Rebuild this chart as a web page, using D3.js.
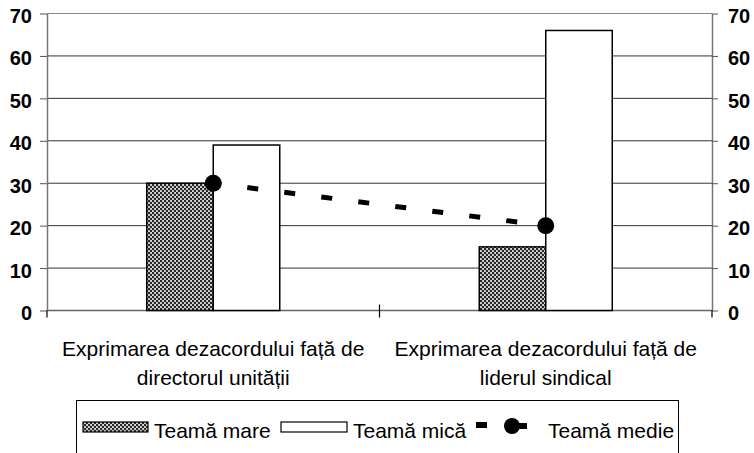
<!DOCTYPE html>
<html>
<head>
<meta charset="utf-8">
<script src="https://cdn.jsdelivr.net/npm/d3@7"></script>
<style>
  html, body { margin: 0; padding: 0; background: #fff; }
  svg { display: block; }
  text { font-family: "Liberation Sans", Arial, sans-serif; fill: #000; }
</style>
</head>
<body>
<svg id="chart" width="754" height="453"></svg>
<script>
// Data
const categories = [
  ["Exprimarea dezacordului față de", "directorul unității"],
  ["Exprimarea dezacordului față de", "liderul sindical"]
];
const seriesNames = ["Teamă mare", "Teamă mică", "Teamă medie"];
const teamaMare = [30, 15];
const teamaMica = [39, 66];
const teamaMedie = [30, 20];
const yTicks = [0, 10, 20, 30, 40, 50, 60, 70];

const svg = d3.select("#chart");
const plotLeft = 47, plotRight = 712, plotTop = 13.5, plotBottom = 310.5;

// Hatched fill used for "Teamă mare"
const defs = svg.append("defs");
const pat = defs.append("pattern")
  .attr("id", "dots")
  .attr("patternUnits", "userSpaceOnUse")
  .attr("width", 4).attr("height", 4);
pat.append("rect").attr("width", 4).attr("height", 4).attr("fill", "#d0d0d0");
pat.append("circle").attr("cx", 1).attr("cy", 1).attr("r", 1.3).attr("fill", "#2a2a2a");
pat.append("circle").attr("cx", 3).attr("cy", 3).attr("r", 1.3).attr("fill", "#2a2a2a");
pat.append("circle").attr("cx", 3).attr("cy", 1).attr("r", 0.6).attr("fill", "#fff");
pat.append("circle").attr("cx", 1).attr("cy", 3).attr("r", 0.6).attr("fill", "#fff");

const keys = categories.map((c, i) => "c" + i);
const x0 = d3.scaleBand().domain(keys).range([plotLeft, plotRight]);
const bw = x0.bandwidth();
const groupW = bw * 0.4;
const x1 = d3.scaleBand().domain(seriesNames.slice(0, 2))
  .range([(bw - groupW) / 2, (bw + groupW) / 2]);
const y = d3.scaleLinear().domain([0, 70]).range([plotBottom, plotTop]);

// Gridlines
svg.append("g")
  .selectAll("line")
  .data(yTicks.filter(t => t > 0 && t < 70))
  .join("line")
  .attr("x1", plotLeft).attr("x2", plotRight)
  .attr("y1", d => y(d)).attr("y2", d => y(d))
  .attr("stroke", "#333").attr("stroke-width", 1);

// Top frame line at 70
svg.append("line")
  .attr("x1", plotLeft).attr("x2", plotRight)
  .attr("y1", y(70)).attr("y2", y(70))
  .attr("stroke", "#888").attr("stroke-width", 1.2);

// Axes
const axisStyle = g => {
  g.select(".domain").attr("stroke", "#777").attr("stroke-width", 1.5);
  g.selectAll(".tick line").attr("stroke", "#555");
  g.selectAll(".tick text")
    .attr("font-size", 20).attr("font-weight", "bold")
    .attr("font-family", "Liberation Sans, Arial, sans-serif").attr("fill", "#000");
};
svg.append("g")
  .attr("transform", `translate(${plotLeft},0)`)
  .call(d3.axisLeft(y).tickValues(yTicks).tickSize(7).tickSizeOuter(0).tickPadding(8))
  .call(axisStyle)
  .call(g => g.selectAll(".tick text").attr("dy", "0.45em"));
svg.append("g")
  .attr("transform", `translate(${plotRight},0)`)
  .call(d3.axisRight(y).tickValues(yTicks).tickSize(6).tickSizeOuter(0).tickPadding(10))
  .call(axisStyle)
  .call(g => g.selectAll(".tick text").attr("dy", "0.45em"));

// Bottom axis line and category separators
svg.append("line")
  .attr("x1", plotLeft).attr("x2", plotRight)
  .attr("y1", plotBottom).attr("y2", plotBottom)
  .attr("stroke", "#666").attr("stroke-width", 1.5);
svg.append("g")
  .selectAll("line")
  .data([plotLeft, plotLeft + bw, plotRight])
  .join("line")
  .attr("x1", d => d).attr("x2", d => d)
  .attr("y1", (d, i) => i === 1 ? plotBottom - 6 : plotBottom)
  .attr("y2", plotBottom + 7)
  .attr("stroke", "#000").attr("stroke-width", 1.2);

// Bars
const barData = [];
keys.forEach((k, i) => {
  barData.push({ k, s: seriesNames[0], v: teamaMare[i] });
  barData.push({ k, s: seriesNames[1], v: teamaMica[i] });
});
svg.append("g")
  .selectAll("rect")
  .data(barData)
  .join("rect")
  .attr("x", d => x0(d.k) + x1(d.s))
  .attr("y", d => y(d.v))
  .attr("width", x1.bandwidth())
  .attr("height", d => y(0) - y(d.v))
  .attr("fill", d => d.s === seriesNames[0] ? "url(#dots)" : "#fff")
  .attr("stroke", "#000").attr("stroke-width", 1.5);

// Average line
const pts = keys.map((k, i) => [x0(k) + bw / 2, y(teamaMedie[i])]);
svg.append("path")
  .attr("d", d3.line()(pts))
  .attr("fill", "none")
  .attr("stroke", "#000").attr("stroke-width", 5)
  .attr("stroke-dasharray", "11 26.3")
  .attr("stroke-dashoffset", 3);
svg.append("g")
  .selectAll("circle")
  .data(pts)
  .join("circle")
  .attr("cx", d => d[0]).attr("cy", d => d[1])
  .attr("r", 8.5).attr("fill", "#000");

// Category labels
const catG = svg.append("g");
keys.forEach((k, i) => {
  const t = catG.append("text")
    .attr("text-anchor", "middle")
    .attr("font-size", 21);
  categories[i].forEach((line, j) => {
    t.append("tspan")
      .attr("x", x0(k) + bw / 2)
      .attr("y", 356 + j * 29)
      .text(line);
  });
});

// Legend
const lg = svg.append("g");
lg.append("rect")
  .attr("x", 76.5).attr("y", 400.5)
  .attr("width", 602).attr("height", 70)
  .attr("fill", "#fff").attr("stroke", "#000").attr("stroke-width", 1);
lg.append("rect")
  .attr("x", 83).attr("y", 422).attr("width", 65).attr("height", 10)
  .attr("fill", "url(#dots)").attr("stroke", "#000").attr("stroke-width", 1.2);
lg.append("text").attr("x", 154).attr("y", 438).attr("font-size", 21).text(seriesNames[0]);
lg.append("rect")
  .attr("x", 281).attr("y", 422).attr("width", 66).attr("height", 10)
  .attr("fill", "#fff").attr("stroke", "#000").attr("stroke-width", 1.2);
lg.append("text").attr("x", 353).attr("y", 438).attr("font-size", 21).text(seriesNames[1]);
lg.append("rect")
  .attr("x", 476).attr("y", 422).attr("width", 11).attr("height", 6).attr("fill", "#000");
lg.append("rect")
  .attr("x", 512).attr("y", 423).attr("width", 15).attr("height", 6).attr("fill", "#000");
lg.append("circle").attr("cx", 512).attr("cy", 426).attr("r", 8).attr("fill", "#000");
lg.append("text").attr("x", 548).attr("y", 438).attr("font-size", 21).text(seriesNames[2]);
</script>
</body>
</html>
